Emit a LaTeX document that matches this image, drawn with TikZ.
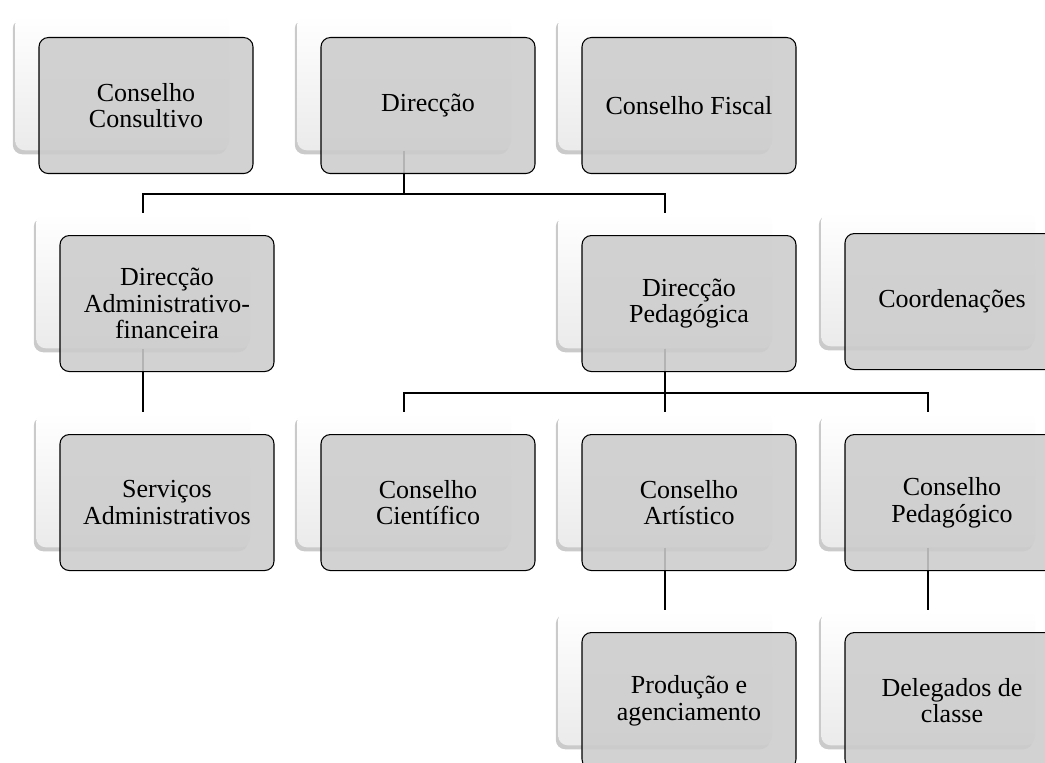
\documentclass[tikz,border=0pt]{standalone}
\usepackage{fontspec}
\setmainfont{Liberation Serif}
\usetikzlibrary{shadows}

\tikzset{
  backcard/.style={anchor=north west, inner sep=0pt, rounded corners=7pt,
    minimum width=160.5pt, minimum height=101.25pt,
    top color=white, bottom color=black!8,
    drop shadow={shadow xshift=-1.8pt, shadow yshift=-3pt, opacity=0.42}},
  frontcard/.style={anchor=north west, draw, line width=0.8pt, rounded corners=7pt,
    fill=black!20, fill opacity=0.88, text opacity=1, inner sep=0pt,
    minimum width=160.5pt, minimum height=102pt, align=center,
    font=\fontsize{19.5}{20}\selectfont},
  link/.style={line width=1.5pt}
}

\begin{document}
\begin{tikzpicture}[x=0.75pt, y=-0.75pt]
  \useasboundingbox (0,0) rectangle (1045,763);
  \clip (0,0) rectangle (1045,763);

  % back cards
  \node[backcard] (cc-b)   at (15,15)   {};
  \node[backcard] (dir-b)  at (297,15)  {};
  \node[backcard] (fis-b)  at (558,15)  {};
  \node[backcard] (adm-b)  at (36,213)  {};
  \node[backcard] (ped-b)  at (558,213) {};
  \node[backcard] (coo-b)  at (821,211) {};
  \node[backcard] (serv-b) at (36,412)  {};
  \node[backcard] (cie-b)  at (297,412) {};
  \node[backcard] (art-b)  at (558,412) {};
  \node[backcard] (cped-b) at (821,412) {};
  \node[backcard] (prod-b) at (558,610) {};
  \node[backcard] (del-b)  at (821,610) {};

  % connectors
  \draw[link] (dir-b.south) -- ++(0,43) -| (adm-b.north);
  \draw[link] (dir-b.south) -- ++(0,43) -| (ped-b.north);
  \draw[link] (adm-b.south) -- (serv-b.north);
  \draw[link] (ped-b.south) -- ++(0,44) -| (cie-b.north);
  \draw[link] (ped-b.south) -- (art-b.north);
  \draw[link] (ped-b.south) -- ++(0,44) -| (cped-b.north);
  \draw[link] (art-b.south) -- (prod-b.north);
  \draw[link] (cped-b.south) -- (del-b.north);

  % front cards
  \node[frontcard] (cc)   at ([xshift=17.6pt,yshift=-16.5pt]cc-b.north west)   {Conselho\\Consultivo};
  \node[frontcard] (dir)  at ([xshift=17.6pt,yshift=-16.5pt]dir-b.north west)  {Direcção};
  \node[frontcard] (fis)  at ([xshift=17.6pt,yshift=-16.5pt]fis-b.north west)  {Conselho Fiscal};
  \node[frontcard] (adm)  at ([xshift=17.6pt,yshift=-16.5pt]adm-b.north west)  {Direcção\\Administrativo-\\financeira};
  \node[frontcard] (ped)  at ([xshift=17.6pt,yshift=-16.5pt]ped-b.north west)  {Direcção\\Pedagógica};
  \node[frontcard] (coo)  at ([xshift=17.6pt,yshift=-16.5pt]coo-b.north west)  {Coordenações};
  \node[frontcard] (serv) at ([xshift=17.6pt,yshift=-16.5pt]serv-b.north west) {Serviços\\Administrativos};
  \node[frontcard] (cie)  at ([xshift=17.6pt,yshift=-16.5pt]cie-b.north west)  {Conselho\\Científico};
  \node[frontcard] (art)  at ([xshift=17.6pt,yshift=-16.5pt]art-b.north west)  {Conselho\\Artístico};
  \node[frontcard] (cped) at ([xshift=17.6pt,yshift=-16.5pt]cped-b.north west) {Conselho\\Pedagógico};
  \node[frontcard] (prod) at ([xshift=17.6pt,yshift=-16.5pt]prod-b.north west) {Produção e\\agenciamento};
  \node[frontcard] (del)  at ([xshift=17.6pt,yshift=-16.5pt]del-b.north west)  {Delegados de\\classe};
\end{tikzpicture}
\end{document}
